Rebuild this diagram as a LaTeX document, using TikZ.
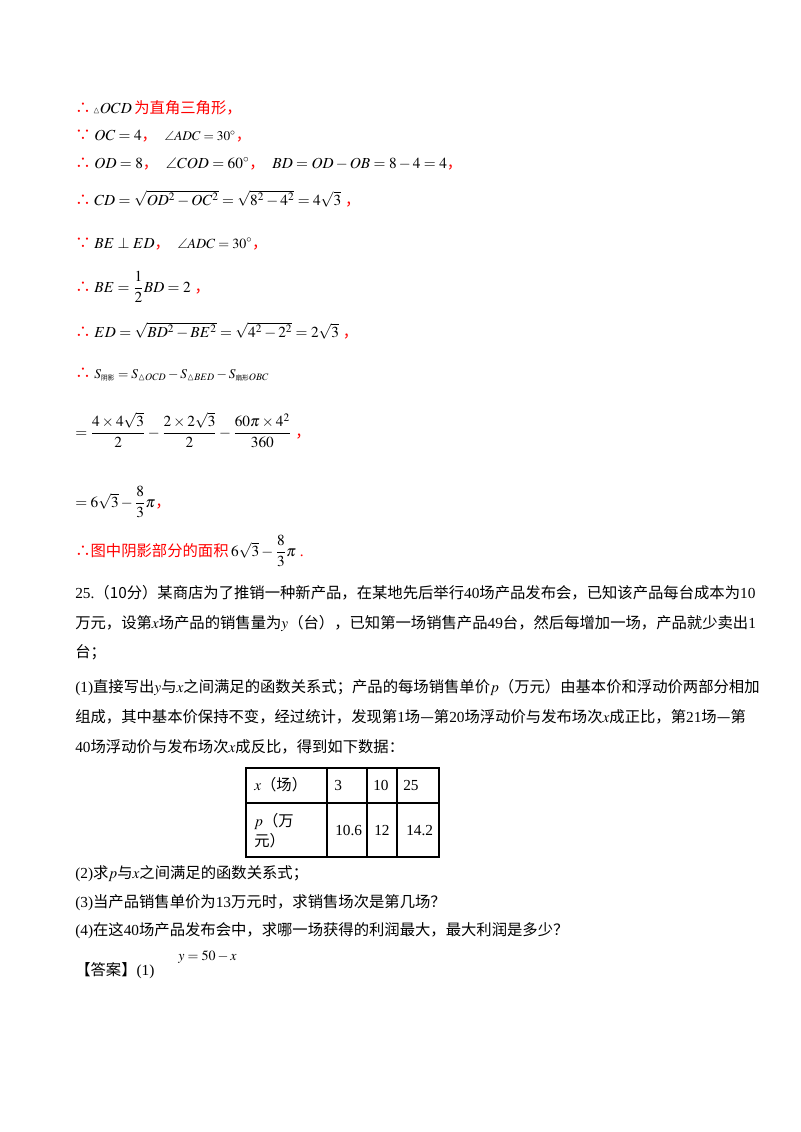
\documentclass[tikz,border=0pt]{standalone}
\usepackage{amsmath,amssymb}
\usepackage{mathptmx}
\usepackage[no-math]{fontspec}
\setmainfont{Liberation Serif}
\newfontfamily\cjk{Noto Sans CJK SC}
\newcommand{\thf}{{\color{red}\cjk ∴}}
\newcommand{\bec}{{\color{red}\cjk ∵}}
\newcommand{\rc}{{\color{red}\cjk ，}}
\newcommand{\cn}[1]{{\cjk #1}}
\begin{document}
\begin{tikzpicture}[x=0.75pt,y=-0.75pt,
  t/.style={anchor=base west,inner sep=0,font=\fontsize{11.5}{14}\selectfont}]
\useasboundingbox (0,0) rectangle (800,1132);
\fill[white] (0,0) rectangle (800,1132);
\node[t] (l1) at (75,113) {\thf\,{\scriptsize$\vartriangle$}$OCD$\,{\color{red}\cjk 为直角三角形，}};
\node[t] (l2) at (75,140) {\bec\ $OC=4$\rc\ \ {\fontsize{10}{12}\selectfont$\angle ADC=30^\circ$}\rc};
\node[t] (l3) at (75,168) {\thf\ $OD=8$\rc\ \ $\angle COD=60^\circ$\rc\ \ $BD=OD-OB=8-4=4$\rc};
\node[t] (l4) at (75,205) {\thf\ $CD=\sqrt{OD^2-OC^2}=\sqrt{8^2-4^2}=4\sqrt3$\ \rc};
\node[t] (l5) at (75,248) {\bec\ $BE\perp ED$\rc\ \ {\fontsize{10.5}{12}\selectfont$\angle ADC=30^\circ$}\rc};
\node[t] (l6) at (75,292) {\thf\ $BE=\dfrac12BD=2$\ \rc};
\node[t] (l7) at (75,337) {\thf\ $ED=\sqrt{BD^2-BE^2}=\sqrt{4^2-2^2}=2\sqrt3$\ \rc};
\node[t] (l8) at (75,378) {\thf\ {\fontsize{10}{12}\selectfont$S_{\mbox{\cjk\tiny 阴影}}=S_{\vartriangle OCD}-S_{\vartriangle BED}-S_{\mbox{\cjk\tiny 扇形}OBC}$}};
\node[t] (l9) at (75,437) {$=\dfrac{4\times4\sqrt3}{2}-\dfrac{2\times2\sqrt3}{2}-\dfrac{60\pi\times4^2}{360}$\ \rc};
\node[t] (l10) at (75,507) {$=6\sqrt3-\dfrac83\pi$\rc};
\node[t] (l11) at (75,556) {{\color{red}\cjk ∴图中阴影部分的面积}\,$6\sqrt3-\dfrac83\pi$\ {\color{red}.}};
\node[t] (p1) at (75,598) {25.\cn{（10分）某商店为了推销一种新产品，在某地先后举行}40\cn{场产品发布会，已知该产品每台成本为}10};
\node[t] (p2) at (75,628) {\cn{万元，设第}$x$\cn{场产品的销售量为}$y$\cn{（台），已知第一场销售产品}49\cn{台，然后每增加一场，产品就少卖出}1};
\node[t] (p3) at (75,657) {\cn{台；}};
\node[t] (p4) at (75,692) {(1)\cn{直接写出}$y$\cn{与}$x$\cn{之间满足的函数关系式；产品的每场销售单价}$p$\cn{（万元）由基本价和浮动价两部分相加}};
\node[t] (p5) at (75,722) {\cn{组成，其中基本价保持不变，经过统计，发现第}1\cn{场—第}20\cn{场浮动价与发布场次}$x$\cn{成正比，第}21\cn{场—第}};
\node[t] (p6) at (75,752) {40\cn{场浮动价与发布场次}$x$\cn{成反比，得到如下数据：}};
\draw[thick] (246,768) rectangle (439,857);
\draw[thick] (246,803) -- (439,803) (327,768) -- (327,857) (367,768) -- (367,857) (397,768) -- (397,857);
\node[t] (c1) at (254,790) {$x$\cn{（场）}};
\node[t] (c2) at (334,790) {3};
\node[t] (c3) at (373,790) {10};
\node[t] (c4) at (403,790) {25};
\node[t] (d1) at (254,826) {$p$\cn{（万}};
\node[t] (d1b) at (254,846) {\cn{元）}};
\node[t] (d2) at (335,835) {10.6};
\node[t] (d3) at (374,835) {12};
\node[t] (d4) at (406,835) {14.2};
\node[t] (q2) at (75,878) {(2)\cn{求}$p$\cn{与}$x$\cn{之间满足的函数关系式；}};
\node[t] (q3) at (75,907) {(3)\cn{当产品销售单价为}13\cn{万元时，求销售场次是第几场？}};
\node[t] (q4) at (75,935) {(4)\cn{在这}40\cn{场产品发布会中，求哪一场获得的利润最大，最大利润是多少？}};
\node[t] (a1) at (75,975) {\cn{【答案】}(1)};
\node[t] (a2) at (178,960) {\fontsize{10.5}{12}\selectfont$y=50-x$};
\end{tikzpicture}
\end{document}
